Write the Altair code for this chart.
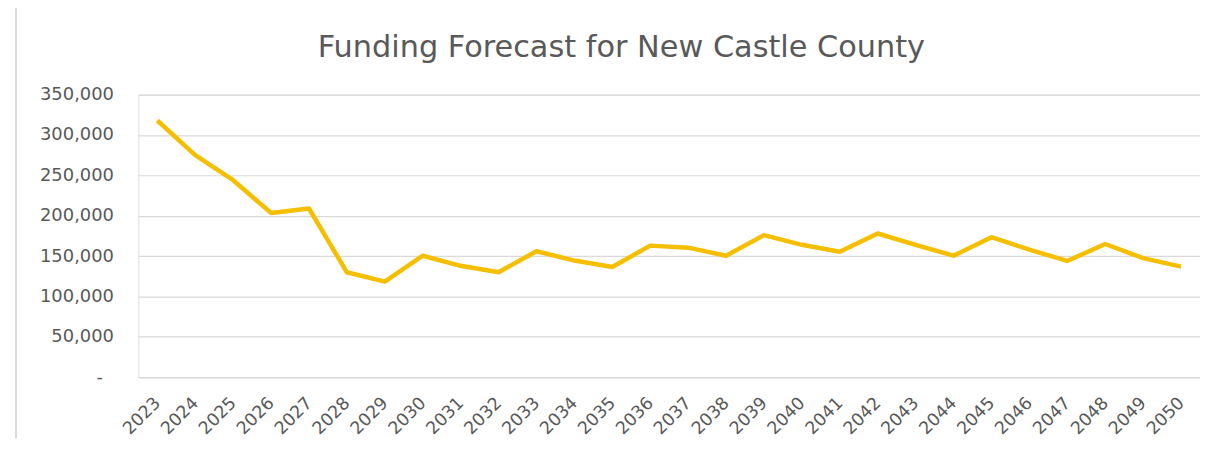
import altair as alt
import pandas as pd

years = [str(y) for y in range(2023, 2051)]
funding = [318000, 275000, 244000, 203500, 209000, 130000, 118500, 150500,
           138000, 130000, 156000, 144500, 136500, 163000, 160500, 150500,
           176000, 164000, 155500, 178000, 164000, 150500, 173500, 158000,
           144000, 165000, 147500, 137000]

df = pd.DataFrame({"year": years, "funding": funding})

GRAY = "#595959"
FONT = "DejaVu Sans"

line = alt.Chart(df).mark_line(color="#F5BF00", strokeWidth=4.5, strokeJoin="round").encode(
    x=alt.X("year:N", sort=years, title=None,
            scale=alt.Scale(paddingInner=0, paddingOuter=0.5),
            axis=alt.Axis(labelAngle=-45, labelAlign="right", labelBaseline="middle",
                          labelFont=FONT, labelFontSize=17.5, labelColor=GRAY,
                          labelPadding=23, ticks=False, domain=True, domainColor="#d9d9d9",
                          domainWidth=1.2, grid=False)),
    y=alt.Y("funding:Q", title=None,
            scale=alt.Scale(domain=[0, 350000], nice=False),
            axis=alt.Axis(values=[0, 50000, 100000, 150000, 200000, 250000, 300000, 350000],
                          labelExpr="datum.value == 0 ? '-' : format(datum.value, ',')",
                          labelFont=FONT, labelFontSize=18, labelColor=GRAY,
                          labelPadding={"condition": {"test": "datum.value == 0", "value": 36},
                                        "value": 25},
                          ticks=False, domain=False,
                          gridColor="#d9d9d9", gridWidth=1.2)),
)

frame = alt.Chart(df).mark_rect(fill=None, stroke="#d9d9d9", strokeWidth=1.5).encode(
    x=alt.value(-123), x2=alt.value(1080), y=alt.value(-88), y2=alt.value(420)
)

chart = alt.layer(frame, line).properties(
    width=1067, height=284,
    title=alt.TitleParams("Funding Forecast for New Castle County", font=FONT,
                          fontSize=30.5, fontWeight="normal", color=GRAY, anchor="middle",
                          dx=-48, offset=-57),
    autosize=alt.AutoSizeParams(type="none"),
    padding={"left": 131, "top": 86, "right": 0, "bottom": 60},
).configure_view(stroke=None).configure(background="white")

chart.save("out.html", embed_options={"renderer": "svg", "actions": False})
